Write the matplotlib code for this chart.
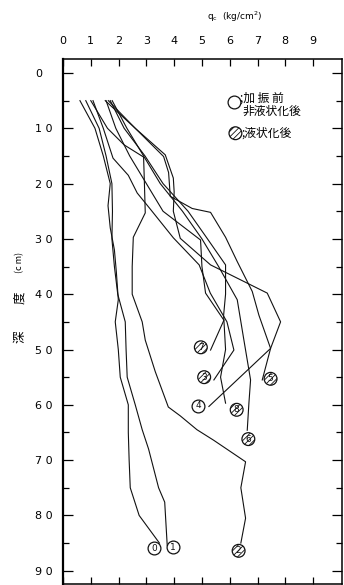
import matplotlib
matplotlib.use("Agg")
import matplotlib.pyplot as plt
from matplotlib.ticker import FixedLocator, FixedFormatter

plt.rcParams['font.family'] = ['DejaVu Sans', 'Noto Sans CJK JP']
plt.rcParams['hatch.linewidth'] = 0.6

# ---- data: cone resistance q_c (kg/cm^2) vs depth (cm) ----
d0 = [5, 10, 15, 20, 24, 28, 32, 36, 41, 45, 50, 55, 60, 65, 70, 75, 80, 85]
q0 = [0.61, 1.15, 1.45, 1.70, 1.62, 1.70, 1.85, 1.92, 1.99, 1.88, 1.99, 2.06, 2.35, 2.35, 2.38, 2.42, 2.74, 3.47]

d1 = [5, 10, 15, 20, 25, 30, 35, 40, 45, 50, 55, 60, 64.5, 68, 75, 77.6, 85.4]
q1 = [0.82, 1.30, 1.55, 1.76, 1.78, 1.76, 1.85, 1.97, 2.24, 2.27, 2.31, 2.60, 2.85, 3.08, 3.44, 3.66, 3.75]

d2 = [5, 10, 13, 15.2, 20, 25.3, 29.7, 35, 40, 45, 48.3, 54, 60.4, 62, 64.5, 66.4, 70.3, 75, 80.5, 85]
q2 = [1.00, 1.60, 2.20, 2.90, 2.93, 2.96, 2.53, 2.49, 2.49, 2.85, 2.96, 3.32, 3.79, 4.22, 4.82, 5.42, 6.57, 6.40, 6.57, 6.40]

d3 = [5, 10, 15.4, 18.5, 21.7, 24.6, 29.8, 34.7, 39.8, 45, 50.1, 55.5]
q3 = [1.08, 1.45, 1.80, 2.35, 2.67, 3.14, 3.97, 4.90, 5.30, 5.90, 6.15, 5.43]

d4 = [5, 10, 14.8, 19, 21.5, 25, 29.9, 34.7, 39.8, 45, 49.8, 60.3]
q4 = [1.52, 2.60, 3.68, 3.97, 4.00, 3.97, 4.22, 5.31, 7.35, 7.83, 7.47, 5.25]

d5 = [5, 10, 15.1, 18, 22.3, 24.5, 25.2, 29.7, 34.1, 39.5, 43.8, 49.8, 55.5]
q5 = [1.63, 2.60, 3.62, 3.80, 3.86, 4.65, 5.31, 5.85, 6.27, 6.81, 7.05, 7.47, 7.17]

d6 = [5, 10, 15, 20, 25, 30, 35, 41, 48, 55.5, 59.7, 64.6]
q6 = [1.77, 2.30, 2.90, 3.50, 4.30, 5.00, 5.60, 6.27, 6.50, 6.75, 6.69, 6.63]

d7 = [5, 10, 15, 20, 25, 30.2, 35, 39.8, 44.7, 50.1]
q7 = [1.55, 1.90, 2.40, 3.00, 3.60, 4.95, 5.00, 5.13, 5.79, 5.31]

d8 = [5, 10, 15, 20, 25, 30, 34.7, 40, 43.8, 50, 55, 59.7]
q8 = [1.70, 2.20, 2.95, 3.60, 4.50, 5.20, 5.85, 5.85, 5.78, 5.85, 5.67, 5.85]

# end-of-test markers
mark_labels = ['0', '1', '2', '3', '4', '5', '6', '7', '8']
mark_q = [3.27, 3.97, 6.32, 5.08, 4.87, 7.47, 6.67, 4.96, 6.25]
mark_d = [85.95, 85.8, 86.4, 55.0, 60.2, 55.3, 66.2, 49.6, 60.9]
mark_liq = [False, False, True, True, False, True, True, True, True]

xtick_vals = [0, 1, 2, 3, 4, 5, 6, 7, 8, 9]
ytick_vals = [0, 10, 20, 30, 40, 50, 60, 70, 80, 90]
ytick_labels = ['0', '1 0', '2 0', '3 0', '4 0', '5 0', '6 0', '7 0', '8 0', '9 0']

fig = plt.figure(figsize=(3.44, 5.85), dpi=100)
ax = fig.add_axes([63/344, 1 - 584/585, (342 - 63)/344, (584 - 59)/585])

for q, d in [(q0, d0), (q1, d1), (q2, d2), (q3, d3), (q4, d4),
             (q5, d5), (q6, d6), (q7, d7), (q8, d8)]:
    ax.plot(q, d, color='#111111', lw=0.8, zorder=2)

for lab, q, d, liq in zip(mark_labels, mark_q, mark_d, mark_liq):
    ax.scatter([q], [d], s=85, facecolors='white', edgecolors='#111111',
               linewidths=0.9, hatch='//////' if liq else None, zorder=3)
    ax.text(q, d, lab, ha='center', va='center', fontsize=6.5, zorder=4,
            color='#111111')

ax.set_xlim(0, 10.04)
ax.set_ylim(92.4, -2.53)

# ticks
ax.xaxis.set_ticks_position('both')
ax.xaxis.set_label_position('top')
ax.tick_params(axis='x', which='both', direction='in', top=True, bottom=True,
               labeltop=True, labelbottom=False, length=5, width=0.9,
               labelsize=8, pad=9)
ax.set_xticks(xtick_vals)
ax.set_xticklabels([str(v) for v in xtick_vals])

ax.yaxis.set_major_locator(FixedLocator(ytick_vals))
ax.yaxis.set_major_formatter(FixedFormatter(ytick_labels))
ax.yaxis.set_minor_locator(FixedLocator([5, 15, 25, 35, 45, 55, 65, 75, 85]))
ax.tick_params(axis='y', which='major', direction='in', left=True, right=True,
               length=7, width=0.9, labelsize=8, pad=20)
ax.tick_params(axis='y', which='minor', direction='in', left=True, right=True,
               length=4.5, width=0.9)
for t in ax.get_yticklabels():
    t.set_horizontalalignment('left')

for s in ax.spines.values():
    s.set_linewidth(1.1)
ax.spines['left'].set_linewidth(1.6)

# axis titles
fig.text(235/344, 1 - 17/585, r'q$_\mathrm{c}$  (kg/cm$^2$)', ha='center', va='center',
         fontsize=6.5)
cjk = ['Noto Sans CJK JP', 'DejaVu Sans']
fig.text(20/344, 1 - 337/585, '深', rotation=90, ha='center', va='center',
         fontsize=9, family=cjk)
fig.text(20/344, 1 - 298/585, '度', rotation=90, ha='center', va='center',
         fontsize=9, family=cjk)
fig.text(20/344, 1 - 262/585, '(c m)', rotation=90, ha='center', va='center',
         fontsize=6.5, family=cjk)

# legend
leg_x = (235 - 63) / 27.9
ax.scatter([leg_x], [(101.7 - 73) / 5.53], s=85, facecolors='white',
           edgecolors='#111111', linewidths=0.9, zorder=3)
ax.scatter([leg_x + 0.04], [(136 - 73) / 5.53 - 0.5], s=85, facecolors='white',
           edgecolors='#111111', linewidths=0.9, hatch='//////', zorder=3)
ax.text(leg_x + 0.22, (101.7 - 73) / 5.53 - 0.6, ';加 振 前', fontsize=8.5,
        ha='left', va='center', family=cjk)
ax.text(leg_x + 0.30, (111.7 - 73) / 5.53, '非液状化後', fontsize=8.5,
        ha='left', va='center', family=cjk)
ax.text(leg_x + 0.26, (136 - 73) / 5.53 - 0.5, ';液状化後', fontsize=8.5,
        ha='left', va='center', family=cjk)

fig.savefig('out.png', dpi=100)
